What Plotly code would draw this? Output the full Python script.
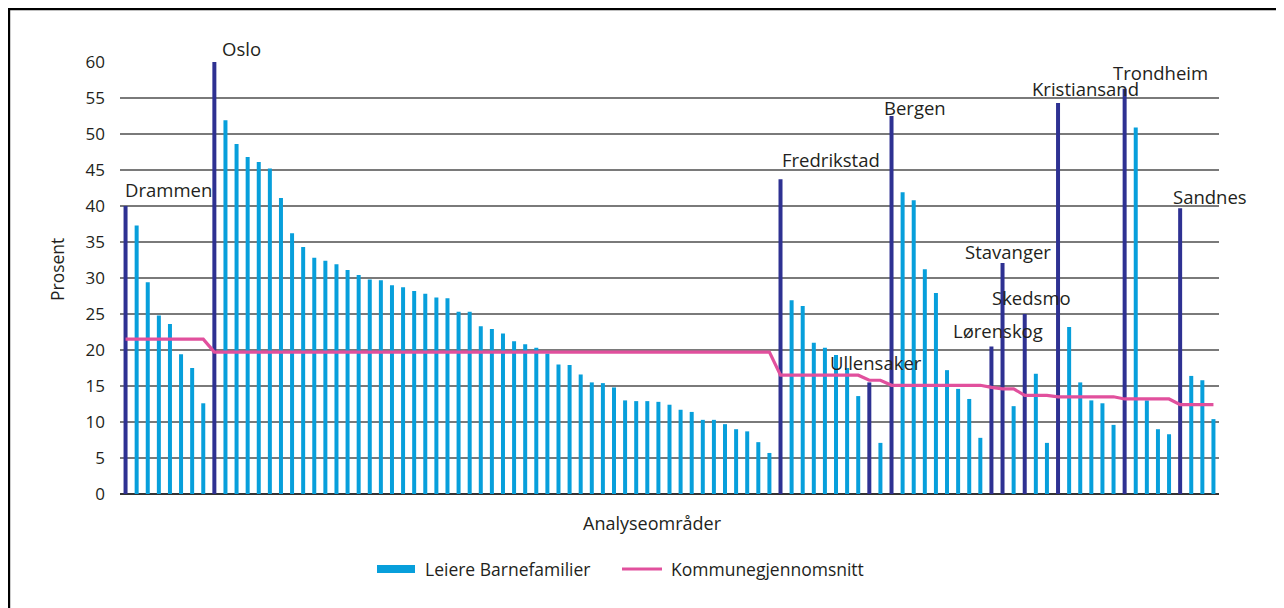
import plotly.graph_objects as go

# ---- data ----
values = [
    40.0, 37.3, 29.4, 24.8, 23.6, 19.4, 17.5, 12.6,
    60.0, 51.9, 48.6, 46.8, 46.1, 45.2, 41.1, 36.2, 34.3, 32.8, 32.4, 31.9,
    31.1, 30.4, 29.8, 29.7, 29.0, 28.7, 28.2, 27.8, 27.3, 27.2, 25.3, 25.3,
    23.3, 22.9, 22.3, 21.2, 20.8, 20.3, 19.5, 18.0, 17.9, 16.6, 15.5, 15.4,
    14.8, 13.0, 12.9, 12.9, 12.8, 12.4, 11.7, 11.4, 10.3, 10.3, 9.7, 9.0,
    8.7, 7.2, 5.7,
    43.7, 26.9, 26.1, 21.0, 20.3, 19.3, 17.5, 13.6,
    15.5, 7.1,
    52.5, 41.9, 40.8, 31.2, 27.9, 17.2, 14.6, 13.2, 7.8,
    20.5,
    32.1, 12.2,
    25.0, 16.7, 7.1,
    54.3, 23.2, 15.5, 13.0, 12.6, 9.6,
    56.3, 50.9, 13.0, 9.0, 8.3,
    39.7, 16.4, 15.8, 10.4,
]

average = (
    [21.5] * 8 + [19.7] * 51 + [16.5] * 8 + [15.8] * 2 + [15.1] * 9
    + [14.8] * 1 + [14.6] * 2 + [13.7] * 3 + [13.5] * 6 + [13.2] * 5 + [12.4] * 4
)

categories = list(range(len(values)))

# municipality (kommune) total bars: index, label, label x-shift px, label y-shift px
kommune_idx = [0, 8, 59, 67, 69, 78, 79, 81, 84, 90, 95]
kommune_names = ["Drammen", "Oslo", "Fredrikstad", "Ullensaker", "Bergen", "Lørenskog",
                 "Stavanger", "Skedsmo", "Kristiansand", "Trondheim", "Sandnes"]
label_dx = [-3, 6, -1, -41, -10, -40, -40, -35, -28, -14, -9]
label_dy = [17, 14, 20, 20, 9, 16, 11, 17, 15, 16, 12]

yticks = [0, 5, 10, 15, 20, 25, 30, 35, 40, 45, 50, 55, 60]

LIGHT = "#079FDB"
DARK = "#2E3192"
PINK = "#E1509D"
TXT = "#231F20"
FONT = "Open Sans"

colors = [DARK if i in kommune_idx else LIGHT for i in categories]

# the page places the figure 8px from the top-left corner of the window
OFF = 8
W, H = 1276, 600
L, R, T, B = 120 - OFF, 65, 62 - OFF, 114
pw, ph = W - L - R, H - T - B


def px(xs):
    """screen x (px) -> paper x"""
    return (xs - OFF - L) / pw


def py(ys):
    """screen y (px) -> paper y"""
    return (H - B - (ys - OFF)) / ph


fig = go.Figure()
fig.add_trace(go.Bar(x=categories, y=values, marker=dict(color=colors, line=dict(width=0)),
                     width=0.36, name="Leiere Barnefamilier", showlegend=False))
fig.add_trace(go.Scatter(x=categories, y=average, mode="lines",
                         line=dict(color=PINK, width=3.2), name="Kommunegjennomsnitt",
                         showlegend=False))

for i, name, dx, dy in zip(kommune_idx, kommune_names, label_dx, label_dy):
    fig.add_annotation(x=i, y=values[i], text=name, showarrow=False,
                       xanchor="left", yanchor="middle", xshift=dx, yshift=dy,
                       font=dict(family=FONT, size=18.5, color=TXT))

# axis titles
fig.add_annotation(xref="paper", yref="paper", x=px(652), y=py(523), text="Analyseområder",
                   xanchor="center", yanchor="middle", showarrow=False,
                   font=dict(family=FONT, size=18, color=TXT))
fig.add_annotation(xref="paper", yref="paper", x=px(57), y=py(270), text="Prosent",
                   xanchor="center", yanchor="middle", showarrow=False, textangle=-90,
                   font=dict(family=FONT, size=17.5, color=TXT))

# custom legend
fig.add_shape(type="rect", xref="paper", yref="paper", x0=px(377), x1=px(415),
              y0=py(573), y1=py(565), fillcolor=LIGHT, line=dict(width=0))
fig.add_annotation(xref="paper", yref="paper", x=px(423), y=py(569), xanchor="left",
                   yanchor="middle", text="Leiere Barnefamilier", showarrow=False,
                   font=dict(family=FONT, size=17.5, color=TXT))
fig.add_shape(type="line", xref="paper", yref="paper", x0=px(622), x1=px(662),
              y0=py(569), y1=py(569), line=dict(color=PINK, width=3.2))
fig.add_annotation(xref="paper", yref="paper", x=px(669), y=py(569), xanchor="left",
                   yanchor="middle", text="Kommunegjennomsnitt", showarrow=False,
                   font=dict(family=FONT, size=17.5, color=TXT))

# outer frame (top and left edges visible)
fig.add_shape(type="rect", xref="paper", yref="paper", x0=px(8.6), x1=px(1500),
              y0=py(900), y1=py(8.6), line=dict(color="black", width=3.2),
              fillcolor="rgba(0,0,0,0)", layer="above")

fig.update_layout(
    width=W, height=H,
    margin=dict(l=L, r=R, t=T, b=B),
    paper_bgcolor="white", plot_bgcolor="white",
    font=dict(family=FONT, size=17, color=TXT),
)
fig.update_xaxes(range=[-0.5, len(values) - 0.5], showticklabels=False, showgrid=False,
                 zeroline=False, showline=False, ticks="")
fig.update_yaxes(range=[0, 60], tickvals=yticks, showgrid=True, gridcolor="#7A7A7A",
                 gridwidth=1.6, zeroline=True, zerolinecolor="#333333", zerolinewidth=2,
                 showline=False, ticks="", ticklabelstandoff=14,
                 tickfont=dict(family=FONT, size=17, color=TXT))

fig.write_html("out.html")
